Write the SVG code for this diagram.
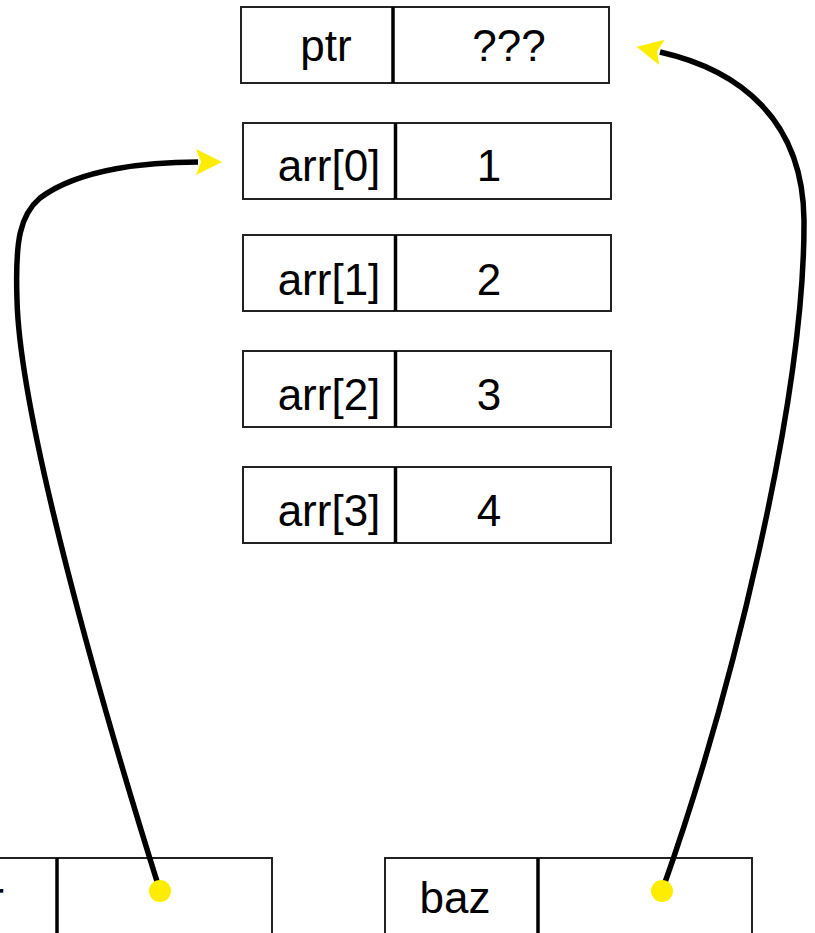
<svg xmlns="http://www.w3.org/2000/svg" width="815" height="933" viewBox="0 0 815 933">
<style>
.box{fill:#fff;stroke:#222;stroke-width:2}
.div{stroke:#000;stroke-width:3.5}
text{font-family:"Liberation Sans",Arial,sans-serif;font-size:44px;fill:#000}
.conn{fill:none;stroke:#000;stroke-width:5.5}
.dot{fill:#ffed00}
</style>
<defs>
<marker id="ah" markerUnits="userSpaceOnUse" markerWidth="30" markerHeight="30" viewBox="-2 -15 30 30" refX="2" refY="0" orient="auto">
<path d="M0,-13 L26,0 L0,13 L5,0 z" fill="#ffed00"/>
</marker>
</defs>
<g id="ptr">
<rect class="box" x="241" y="7" width="368" height="76"/>
<line class="div" x1="393" y1="7" x2="393" y2="83"/>
<text x="326" y="61" text-anchor="middle">ptr</text>
<text x="509" y="61" text-anchor="middle">???</text>
</g>
<g id="arr0">
<rect class="box" x="243" y="123" width="368" height="76"/>
<line class="div" x1="395.5" y1="123" x2="395.5" y2="199"/>
<text x="329" y="181" text-anchor="middle">arr[0]</text>
<text x="489" y="181" text-anchor="middle">1</text>
</g>
<g id="arr1">
<rect class="box" x="243" y="235" width="368" height="76"/>
<line class="div" x1="395.5" y1="235" x2="395.5" y2="311"/>
<text x="329" y="295" text-anchor="middle">arr[1]</text>
<text x="489" y="295" text-anchor="middle">2</text>
</g>
<g id="arr2">
<rect class="box" x="243" y="351" width="368" height="76"/>
<line class="div" x1="395.5" y1="351" x2="395.5" y2="427"/>
<text x="329" y="410" text-anchor="middle">arr[2]</text>
<text x="489" y="410" text-anchor="middle">3</text>
</g>
<g id="arr3">
<rect class="box" x="243" y="467" width="368" height="76"/>
<line class="div" x1="395.5" y1="467" x2="395.5" y2="543"/>
<text x="329" y="526" text-anchor="middle">arr[3]</text>
<text x="489" y="526" text-anchor="middle">4</text>
</g>
<g id="bar">
<rect class="box" x="-96" y="858" width="368" height="90"/>
<line class="div" x1="57" y1="858" x2="57" y2="948"/>
<text x="4" y="913" text-anchor="end">bar</text>
</g>
<g id="baz">
<rect class="box" x="385" y="858" width="367" height="90"/>
<line class="div" x1="538" y1="858" x2="538" y2="948"/>
<text x="455" y="913" text-anchor="middle">baz</text>
</g>
<g id="connectors">
<path class="conn" d="M160,891 C100,700 20,420 17,300 C15,240 20,215 40,198 C80,168 150,162 198,162" marker-end="url(#ah)"/>
<path class="conn" d="M662,891 C730,700 805,400 804,220 C803,120 740,70 660,52" marker-end="url(#ah)"/>
<circle class="dot" cx="160" cy="891" r="11"/>
<circle class="dot" cx="662" cy="891" r="11"/>
</g>
</svg>
